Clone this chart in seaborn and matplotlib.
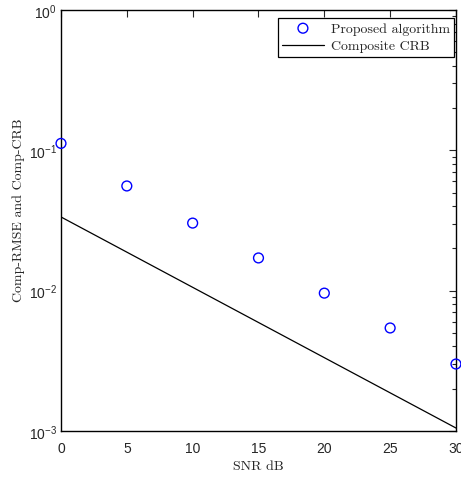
import matplotlib
matplotlib.use("Agg")
import matplotlib.pyplot as plt
import seaborn as sns
import numpy as np
import pandas as pd
from matplotlib.ticker import LogLocator, FixedLocator, NullFormatter

snr = [0, 5, 10, 15, 20, 25, 30]
proposed = [0.112, 0.0557, 0.0303, 0.0171, 0.0096, 0.00542, 0.0030]
crb_snr = [0, 30]
crb = [0.0335, 0.00105]

sns.set_style("white")
plt.rcParams["mathtext.fontset"] = "custom"
plt.rcParams["mathtext.rm"] = "Liberation Sans"
plt.rcParams["mathtext.it"] = "Liberation Sans"
plt.rcParams["mathtext.default"] = "regular"
plt.rcParams["font.family"] = ["Liberation Sans", "DejaVu Sans"]

fig = plt.figure(figsize=(4.61, 4.81), dpi=100)
ax = fig.add_axes([0.1323, 0.1019, 0.8568, 0.8753])

df_p = pd.DataFrame({"snr": snr, "val": proposed})
df_c = pd.DataFrame({"snr": crb_snr, "val": crb})

sns.lineplot(data=df_c, x="snr", y="val", ax=ax, color="black", lw=0.9,
             label="Composite CRB")
sns.scatterplot(data=df_p, x="snr", y="val", ax=ax, marker="o", s=50,
                facecolor="none", edgecolor="blue", linewidth=1.0,
                label="Proposed algorithm", clip_on=False, zorder=5)

ax.set_yscale("log")
ax.set_xlim(0, 30)
ax.set_ylim(1e-3, 1e0)
ax.xaxis.set_major_locator(FixedLocator([0, 5, 10, 15, 20, 25, 30]))
ax.yaxis.set_major_locator(LogLocator(base=10, numticks=10))
ax.yaxis.set_minor_locator(LogLocator(base=10, subs=np.arange(2, 10), numticks=10))
ax.yaxis.set_minor_formatter(NullFormatter())

ax.tick_params(which="both", direction="in", top=True, right=True,
               labelsize=10, width=0.8)
ax.tick_params(which="major", length=5)
ax.tick_params(which="minor", length=3)
ax.tick_params(axis="x", pad=7)
ax.tick_params(axis="y", pad=3)
for s in ax.spines.values():
    s.set_linewidth(1.0)
    s.set_color("black")

serif = ["cmr10", "Liberation Serif", "DejaVu Serif"]
ax.set_xlabel("SNR dB", family=serif, fontsize=10, labelpad=4)
ax.set_ylabel("Comp-RMSE and Comp-CRB", family=serif, fontsize=10)
ax.yaxis.set_label_coords(-0.09, 0.527)

h, l = ax.get_legend_handles_labels()
order = [l.index("Proposed algorithm"), l.index("Composite CRB")]
leg = ax.legend([h[i] for i in order], [l[i] for i in order], loc="upper right",
                bbox_to_anchor=(0.995, 0.981), borderaxespad=0,
                prop={"family": serif, "size": 10}, fancybox=False,
                edgecolor="black", framealpha=1,
                handlelength=3.0, borderpad=0.3, labelspacing=0.35,
                handletextpad=0.5)
leg.get_frame().set_linewidth(0.9)

fig.savefig("out.png", dpi=100)
